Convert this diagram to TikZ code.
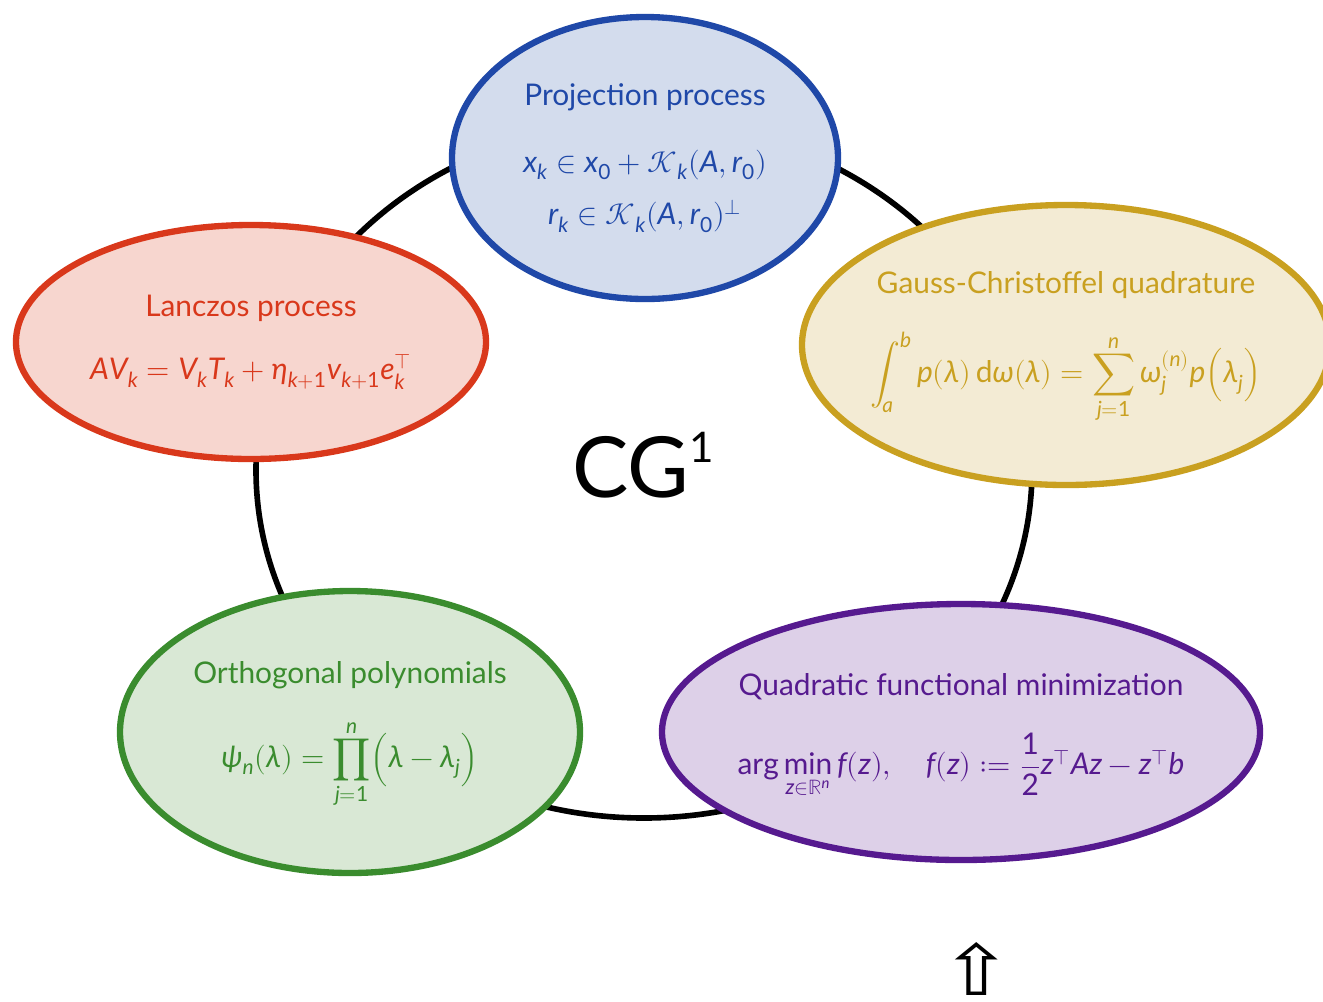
\documentclass[tikz,border=0pt]{standalone}
\usepackage{mathtools}
\usepackage{unicode-math}
\setmainfont{Lato}
\setmathfont{Latin Modern Math}
\setmathfont[range={up/num}]{Lato}
\setmathfont[range={it/{latin,Latin,greek,Greek}->up}]{Lato Italic}
\newfontfamily\symbolfont{DejaVu Sans}
\usetikzlibrary{shapes.geometric, positioning}
\definecolor{projblue}{HTML}{1F48A8}
\definecolor{projfill}{HTML}{D3DCED}
\definecolor{lanczred}{HTML}{D9381B}
\definecolor{lanczfill}{HTML}{F7D6CF}
\definecolor{gaussgold}{HTML}{C9A020}
\definecolor{gaussfill}{HTML}{F3EBD4}
\definecolor{orthgreen}{HTML}{3A8C2E}
\definecolor{orthfill}{HTML}{D9E8D5}
\definecolor{quadpurple}{HTML}{561A8F}
\definecolor{quadfill}{HTML}{DDD0E8}

\begin{document}
\begin{tikzpicture}[
  ring/.style={draw=black, line width=3.2pt},
  topic/.style={ellipse, line width=3.6pt, inner sep=0pt},
  topictext/.style={align=center, inner sep=0pt,
                    font=\fontsize{17}{20}\selectfont}
]
  \useasboundingbox (0,0) rectangle (26.46,-20.02);
  \coordinate (hub) at (12.88,-9.4);
  \draw[ring] (hub) ellipse [x radius=7.76, y radius=6.96];

  % the five views of CG
  \node[topic, draw=projblue, fill=projfill,
        minimum width=7.72cm, minimum height=5.64cm] (proj) at (12.9,-3.16) {};
  \node[topic, draw=lanczred, fill=lanczfill,
        minimum width=9.4cm, minimum height=4.68cm] (lanczos) at (5.02,-6.84) {};
  \node[topic, draw=gaussgold, fill=gaussfill,
        minimum width=10.56cm, minimum height=5.6cm] (gauss) at (21.32,-6.9) {};
  \node[topic, draw=orthgreen, fill=orthfill,
        minimum width=9.2cm, minimum height=5.64cm] (orth) at (7.0,-14.64) {};
  \node[topic, draw=quadpurple, fill=quadfill,
        minimum width=11.96cm, minimum height=5.12cm] (quad) at (19.22,-14.64) {};

  \node[topictext, text=projblue] (proj-txt) at (proj)
    {Projection process\\[18pt]
     $x_k \in x_0 + \mathcal{K}_k(A, r_0)$\\[10pt]
     $r_k \in \mathcal{K}_k(A, r_0)^{\perp}$};
  \node[topictext, text=lanczred] (lanczos-txt) at (lanczos)
    {Lanczos process\\[16pt]
     $AV_k = V_k T_k + \eta_{k+1} v_{k+1} e_k^{\top}$};
  \node[topictext, text=gaussgold, yshift=-0.05cm] (gauss-txt) at (gauss)
    {Gauss-Christoffel quadrature\\[18pt]
     $\displaystyle \int_a^b p(\lambda)\,\mathrm{d}\omega(\lambda)
      = \sum_{j=1}^{n} \omega_j^{(n)} p\Bigl(\lambda_j\Bigr)$};
  \node[topictext, text=orthgreen, yshift=-0.06cm] (orth-txt) at (orth)
    {Orthogonal polynomials\\[16pt]
     $\displaystyle \psi_n(\lambda) = \prod_{j=1}^{n}\Bigl(\lambda - \lambda_j\Bigr)$};
  \node[topictext, text=quadpurple, yshift=-0.08cm] (quad-txt) at (quad)
    {Quadratic functional minimization\\[18pt]
     $\displaystyle \arg\min_{z\in\mathbb{R}^n} f(z), \quad
      f(z) \vcentcolon= \frac{1}{2} z^{\top} A z - z^{\top} b$};

  \node[font=\fontsize{48}{56}\selectfont, inner sep=0pt] (cg) at (12.86,-9.3)
    {CG\raisebox{0.42em}{\fontsize{24}{24}\selectfont 1}};
  \node[font=\symbolfont\fontsize{40}{46}\selectfont, inner sep=0pt, xscale=1.23]
    (nextmark) at (19.54,-19.37) {⇧};
\end{tikzpicture}
\end{document}
